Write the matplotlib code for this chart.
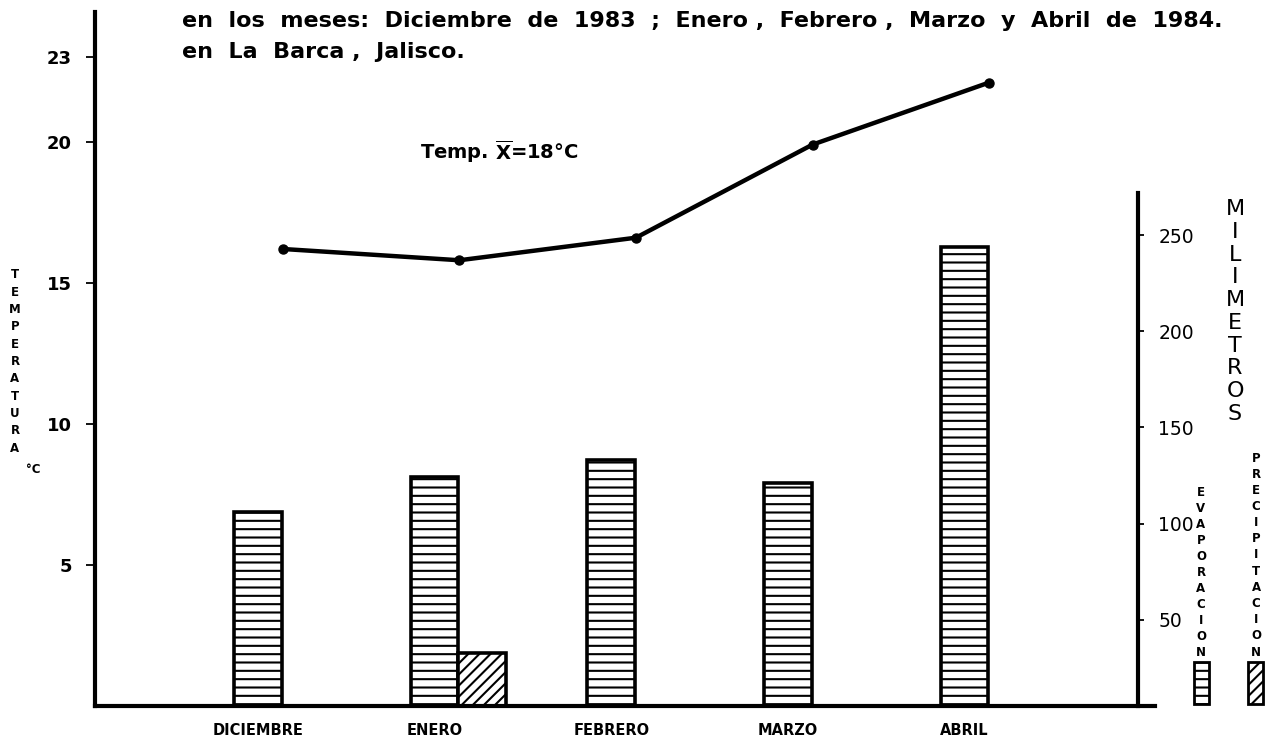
import matplotlib
matplotlib.use('Agg')
from matplotlib import pyplot as plt
from matplotlib.patches import Rectangle
import numpy as np

# datos
meses = ['DICIEMBRE', 'ENERO', 'FEBRERO', 'MARZO', 'ABRIL']
temperatura = [16.2, 15.8, 16.6, 19.9, 22.1]
evaporacion = [106, 124, 133, 121, 244]
precipitacion = [0, 33, 0, 0, 0]
temp_ticks = [5, 10, 15, 20, 23]
mm_ticks = [50, 100, 150, 200, 250]

titulo_1 = 'en  los  meses:  Diciembre  de  1983  ;  Enero ,  Febrero ,  Marzo  y  Abril  de  1984.'
titulo_2 = 'en  La  Barca ,  Jalisco.'

W, H = 1270, 740


def fx(px):
    return px / W


def fy(py):
    return 1 - py / H


def rotulo_vertical(palabra, xc, y_ini, y_fin, **kw):
    # letras apiladas una bajo otra, como en el rotulado a mano
    for letra, yp in zip(palabra, np.linspace(y_ini, y_fin, len(palabra))):
        fig.text(fx(xc), fy(yp), letra, ha='center', va='center', **kw)


plt.rcParams['hatch.linewidth'] = 1.5
plt.rcParams['font.family'] = 'DejaVu Sans'

fig = plt.figure(figsize=(12.7, 7.4), dpi=100)
ax = fig.add_axes([fx(95), fy(706), fx(1060), (706 - 12) / H])
ax2 = ax.twinx()
ax.set_zorder(ax2.get_zorder() + 1)
ax.patch.set_visible(False)

x = np.arange(len(meses))
width = 0.27

# barras (milimetros)
ax2.bar(x, evaporacion, width, facecolor='white', edgecolor='black',
        linewidth=2.6, hatch='--', zorder=2)
px = [xi + width for xi, p in zip(x, precipitacion) if p > 0]
pv = [p for p in precipitacion if p > 0]
ax2.bar(px, pv, width, facecolor='white', edgecolor='black',
        linewidth=2.6, hatch='///', zorder=2)

# temperatura
ax.plot(x + 0.14, temperatura, color='black', linewidth=3.2,
        marker='o', markersize=6.5, zorder=5)

ax.set_xlim(-0.923, 5.079)
ax.set_ylim(0, 24.6)
ax2.set_ylim(5.2, 366)

for s in ['top', 'right']:
    ax.spines[s].set_visible(False)
ax.spines['left'].set_linewidth(3)
ax.spines['bottom'].set_linewidth(3)
for s in ['top', 'left', 'bottom']:
    ax2.spines[s].set_visible(False)
ax2.spines['right'].set_position(('data', 4.98))
ax2.spines['right'].set_bounds(5.2, 272)
ax2.spines['right'].set_linewidth(3)

ax.set_xticks(x, meses)
ax.tick_params(axis='x', length=0, pad=12, labelsize=10.5)
for lb in ax.get_xticklabels():
    lb.set_fontweight('bold')

ax.set_yticks(temp_ticks)
ax.tick_params(axis='y', direction='out', length=6.5, width=1.3, pad=10, labelsize=13)
for lb in ax.get_yticklabels():
    lb.set_fontweight('bold')

ax2.set_yticks(mm_ticks)
ax2.tick_params(axis='y', direction='out', length=4, width=1.3, pad=11, labelsize=13.5)

# textos
fig.text(fx(182), fy(21), titulo_1, fontsize=16, fontweight='bold', va='center', ha='left')
fig.text(fx(182), fy(52), titulo_2, fontsize=16, fontweight='bold', va='center', ha='left')
fig.text(fx(420), fy(152), r'Temp. $\overline{\mathbf{X}}$=18°C', fontsize=14,
         fontweight='bold', va='center', ha='left')

rotulo_vertical('TEMPERATURA', 15, 275, 448, fontsize=8.5, fontweight='bold')
fig.text(fx(33), fy(470), '°C', fontsize=8.5, fontweight='bold', va='center', ha='center')
rotulo_vertical('MILIMETROS', 1235, 209, 414, fontsize=16)
rotulo_vertical('EVAPORACION', 1201, 492, 652, fontsize=8.5, fontweight='bold')
rotulo_vertical('PRECIPITACION', 1256, 458, 652, fontsize=8.5, fontweight='bold')

# muestras de leyenda
for x0, h in [(1194, '--'), (1248, '///')]:
    fig.patches.append(Rectangle((fx(x0), fy(704)), fx(15), (704 - 662) / H,
                                 transform=fig.transFigure, facecolor='white',
                                 edgecolor='black', linewidth=2, hatch=h))

fig.savefig('out.png', dpi=100)
